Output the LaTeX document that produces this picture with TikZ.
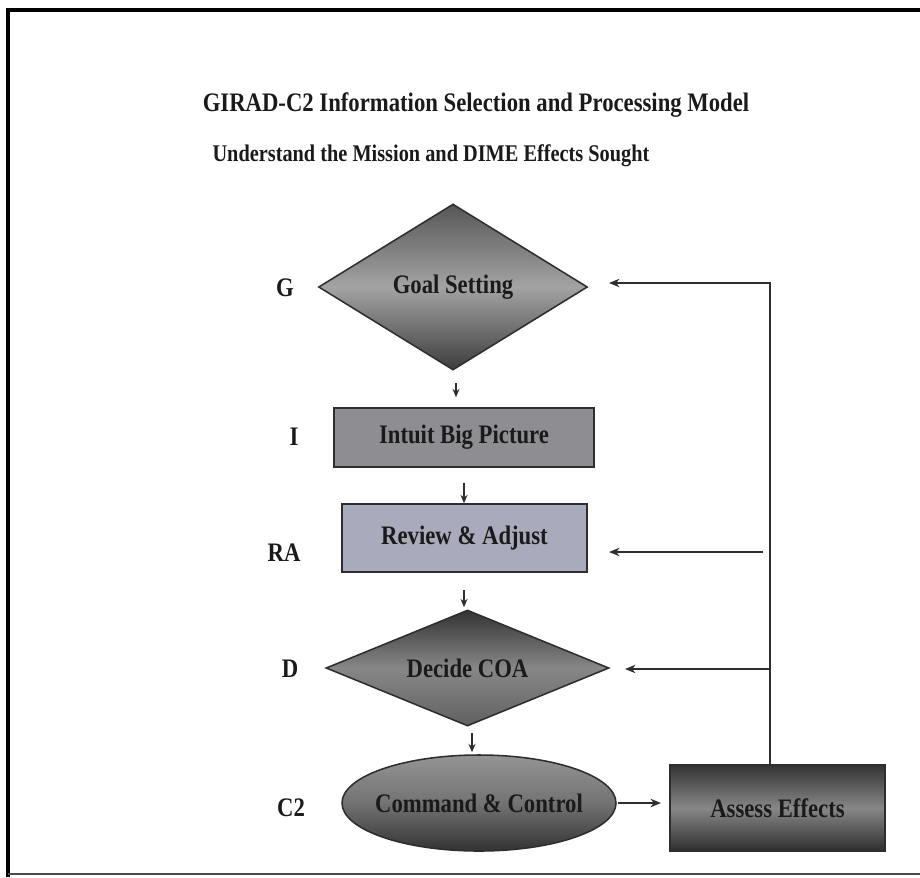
\documentclass[tikz,border=0pt]{standalone}
\usepackage{fontspec}
\setmainfont{Liberation Serif}[FakeStretch=0.85]
\usetikzlibrary{shapes.geometric,arrows.meta,shadings}
\definecolor{lineg}{HTML}{2E2E2E}
\definecolor{txt}{HTML}{1A1A1A}
\definecolor{intuitfill}{HTML}{8D8D92}
\definecolor{reviewfill}{HTML}{A9ABBC}
\begin{document}
\begin{tikzpicture}[x=0.025cm,y=-0.025cm,
  bigtext/.style={font=\bfseries\fontsize{19}{22}\selectfont, text=txt},
  subtext/.style={font=\bfseries\fontsize{17}{20}\selectfont, text=txt},
  lbl/.style={font=\bfseries\fontsize{19}{22}\selectfont, text=txt, inner sep=0},
  shapeborder/.style={draw=lineg, line width=1.1pt, inner sep=0, bigtext},
  goaldia/.style={shapeborder, diamond, shape aspect=1.62, minimum width=269*0.025cm, minimum height=166*0.025cm,
     top color=black!66, bottom color=black!76, middle color=black!36},
  decidedia/.style={shapeborder, diamond, shape aspect=2.44, minimum width=283*0.025cm, minimum height=116*0.025cm,
     top color=black!80, bottom color=black!62, middle color=black!47},
  intuitbox/.style={shapeborder, rectangle, minimum width=260*0.025cm, minimum height=59*0.025cm, fill=intuitfill},
  reviewbox/.style={shapeborder, rectangle, minimum width=245*0.025cm, minimum height=68*0.025cm, fill=reviewfill},
  ctrlell/.style={shapeborder, ellipse, inner xsep=-9*0.025cm, minimum width=274*0.025cm, minimum height=96*0.025cm,
     top color=black!42, bottom color=black!80, middle color=black!55},
  assessbox/.style={shapeborder, rectangle, minimum width=215*0.025cm, minimum height=86*0.025cm,
     top color=black!80, bottom color=black!82, middle color=black!47},
  conn/.style={draw=lineg, line width=1.1pt},
  arr/.style={conn, -{Stealth[length=7.5pt,width=6pt]}},
  smallarr/.style={conn, line width=0.9pt, -{Stealth[length=6pt,width=5pt]}}
]
\useasboundingbox (0,0) rectangle (920,877);
\fill[white] (0,0) rectangle (920,877);
% frame
\draw[black, line width=3pt] (8,877) -- (8,10) -- (920,10);
\draw[black!70, line width=1.3pt] (8,874) -- (920,874);

% titles
\node[bigtext] (title) at (476,105) {GIRAD-C2 Information Selection and Processing Model};
\node[subtext] (subtitle) at (431,156) {Understand the Mission and DIME Effects Sought};

% main nodes
\node[goaldia] (G) at (453,287) {Goal Setting};
\node[intuitbox] (I) at (464,437.5) {Intuit Big Picture};
\node[reviewbox] (RA) at (464.5,538) {Review \& Adjust};
\node[decidedia] (D) at (467.5,668) {Decide COA};
\node[ctrlell] (C2) at (479,803) {Command \& Control};
\node[assessbox] (AE) at (777.5,808) {Assess Effects};

% side labels
\node[lbl] (lG) at (285,288) {G};
\node[lbl] (lI) at (294,437) {I};
\node[lbl] (lRA) at (284,553) {RA};
\node[lbl] (lD) at (290,669) {D};
\node[lbl] (lC2) at (291,808) {C2};

% helper coordinates
\coordinate (gdrop) at (456,383);
\coordinate (idrop) at (464,483);
\coordinate (rdrop) at (464,590);
\coordinate (ddrop) at (472,733);
\coordinate (fbbase) at (770,765);
\coordinate (fbtop) at (770,283);
\coordinate (fbG) at (609,283);
\coordinate (fbD) at (770,669);
\coordinate (fbDtip) at (625,669);
\coordinate (fbR) at (763,552);
\coordinate (fbRtip) at (609,552);
\coordinate (c2out) at (618,803);
\coordinate (aein) at (661,803);

% downward connectors
\draw[smallarr, shorten >=10*0.025cm] (gdrop) -- (gdrop |- I.north);
\draw[smallarr] (idrop) -- (idrop |- RA.north);
\draw[smallarr, shorten >=2*0.025cm] (rdrop) -- (rdrop |- D.north);
\draw[smallarr, shorten >=2*0.025cm] (ddrop) -- (ddrop |- C2.north);

% C2 -> Assess
\draw[arr] (c2out) -- (aein);

% feedback loop
\draw[arr] (fbbase) -- (fbtop) -- (fbG);
\draw[arr] (fbD) -- (fbDtip);
\draw[arr] (fbR) -- (fbRtip);
\end{tikzpicture}
\end{document}
